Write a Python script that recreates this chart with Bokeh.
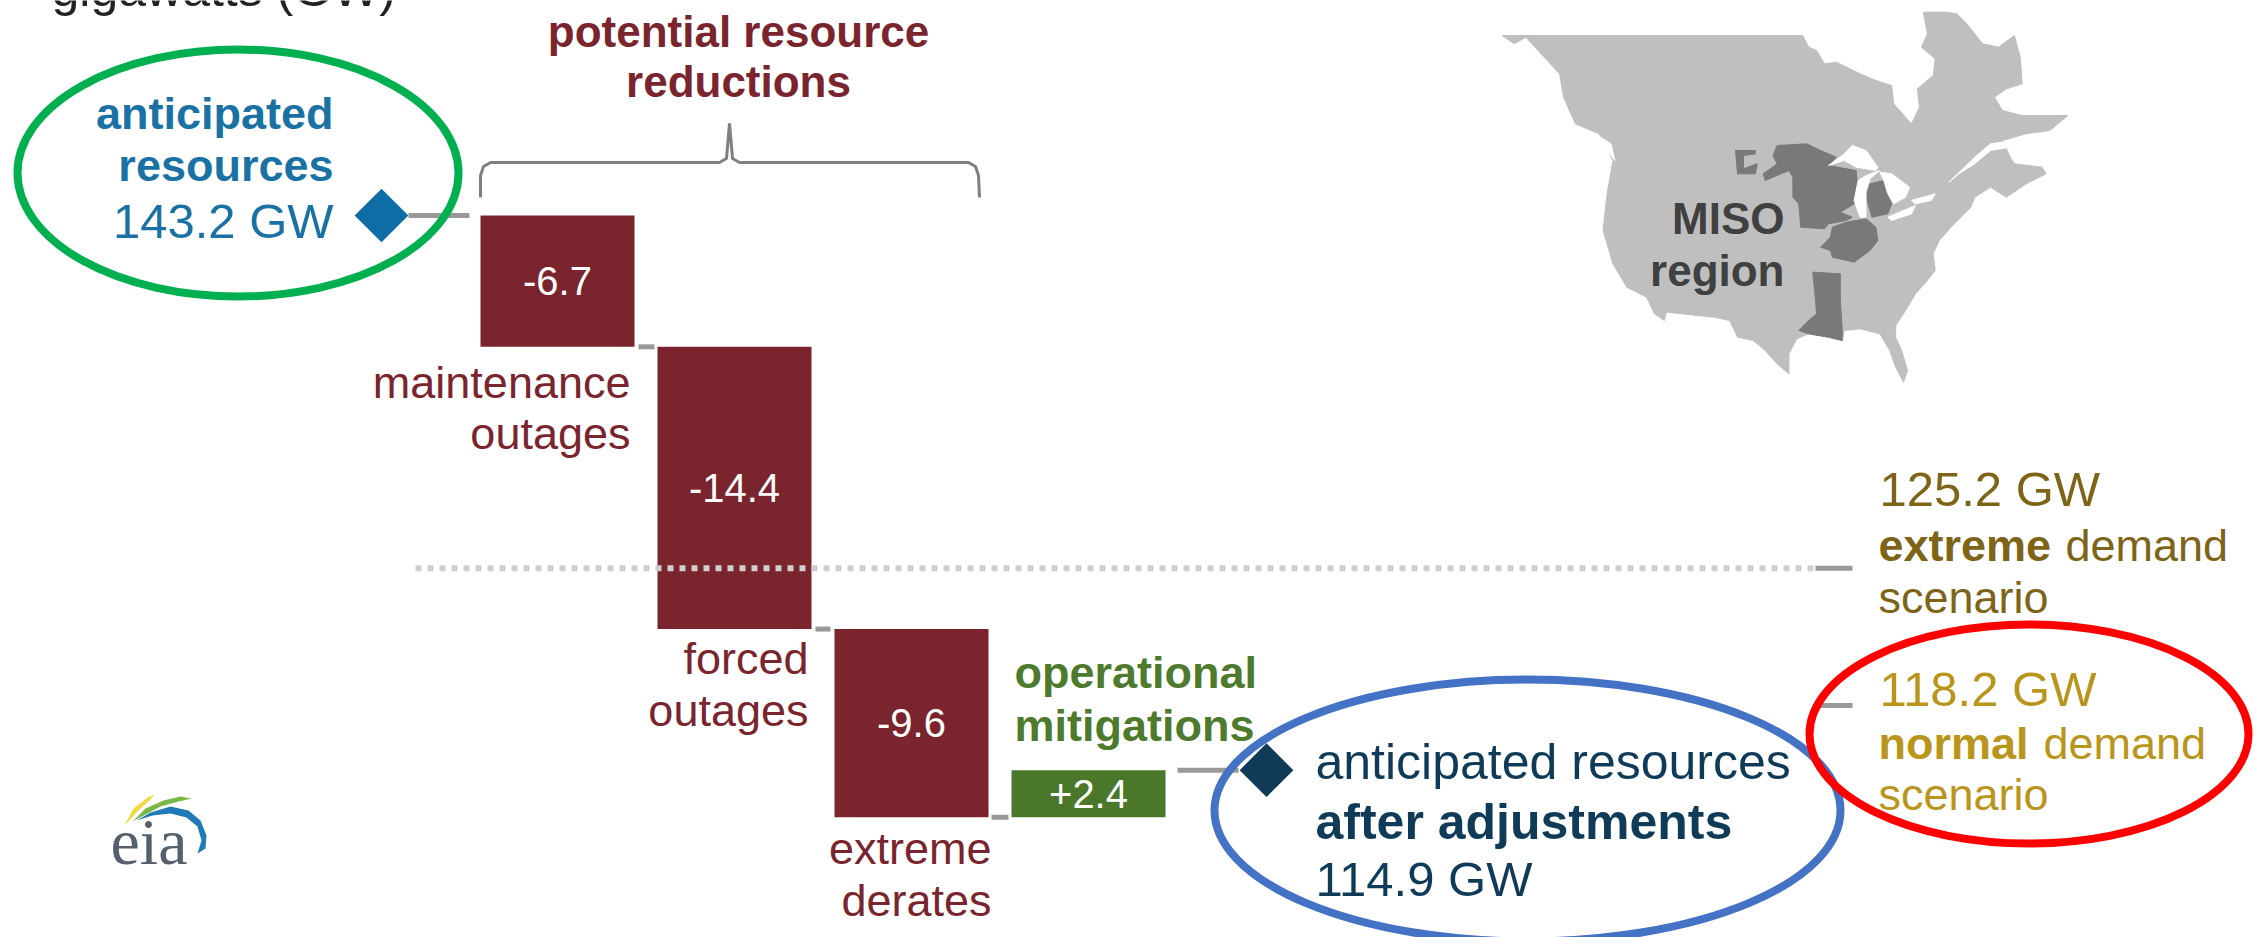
from bokeh.plotting import figure
from bokeh.models import Range1d
from bokeh.core.properties import value
from bokeh.embed import file_html
from bokeh.resources import INLINE
import numpy as np

# Resource stack, gigawatts
start_gw = 143.2
step_names = ["maintenance outages", "forced outages", "extreme derates", "operational mitigations"]
step_values = [-6.7, -14.4, -9.6, 2.4]
step_labels = ["-6.7", "-14.4", "-9.6", "+2.4"]
end_gw = 114.9
extreme_demand_gw = 125.2
normal_demand_gw = 118.2

MAROON = "#7a242e"
GREEN = "#4a7729"
TEAL = "#1a72a4"
NAVY = "#0f3b58"
OLIVE = "#4d7a2c"
EXTREME = "#7d6417"
NORMAL = "#b9951b"
GREY = "#999999"
FONT = "Liberation Sans"

# Map outlines, in map units (x runs 2.529 units per pixel, y 3 units per pixel)
land = [(55,105),(815,105),(830,140),(850,150),(870,190),(900,185),(960,220),(1000,240),(1040,255),
        (1045,310),(1075,350),(1090,370),(1110,320),(1105,265),(1145,225),(1150,175),(1115,140),(1130,100),
        (1120,35),(1175,35),(1205,40),(1230,70),(1270,130),(1310,140),(1350,105),(1365,170),(1370,250),
        (1330,265),(1300,290),(1320,330),(1370,345),(1485,345),(1440,390),(1380,400),(1320,420),(1340,470),
        (1350,490),(1420,500),(1430,520),(1380,550),(1330,590),(1290,560),(1250,590),(1240,620),(1190,680),
        (1160,720),(1145,760),(1150,810),(1130,840),(1100,880),(1075,930),(1050,975),(1050,1010),(1065,1050),
        (1080,1110),(1070,1145),(1050,1100),(1035,1050),(1010,1000),(960,985),(920,990),(915,1020),(880,1010),
        (830,1000),(800,1015),(780,1060),(780,1120),(750,1090),(720,1050),(690,1020),(650,1010),(630,960),
        (590,950),(510,940),(470,935),(465,960),(440,940),(420,890),(370,860),(335,790),(310,690),(320,580),
        (335,480),(300,400),(240,370),(210,290),(200,220),(130,130),(115,110),(85,130)]
water = [
    [(880,495),(920,460),(940,435),(975,450),(1005,500),(1000,510),(950,500),(920,480)],
    [(960,650),(945,600),(955,540),(975,525),(1010,510),(985,535),(975,570),(975,650)],
    [(1010,515),(1040,520),(1085,560),(1075,590),(1045,610),(1030,580),(1020,540)],
    [(1030,650),(1100,615),(1090,640),(1040,660)],
    [(1090,600),(1150,580),(1140,600),(1100,610)],
    [(1185,545),(1250,470),(1290,430),(1350,420),(1340,440),(1290,450),(1250,490),(1210,520)],
    [(240,380),(290,400),(330,430),(340,480),(320,450),(280,415)],
    [(150,280),(170,290),(175,315),(160,300)],
]
miso = [
    [(750,435),(825,430),(860,450),(900,470),(880,495),(950,510),(955,570),(945,610),(910,635),(940,650),
     (925,660),(880,670),(870,685),(810,680),(805,610),(790,590),(790,530),(780,510),(720,540),(715,520),
     (750,490),(740,465)],
    [(645,450),(695,450),(695,460),(665,465),(665,505),(700,490),(695,520),(650,520)],
    [(975,590),(985,550),(1020,540),(1030,580),(1040,610),(1030,640),(990,650)],
    [(890,680),(925,665),(975,655),(1000,680),(1005,720),(985,750),(945,785),(890,770),(885,750),(860,740),(885,710)],
    [(840,815),(910,820),(910,900),(915,990),(915,1020),(880,1010),(830,1000),(805,990),(830,960),(850,940),(845,870)],
]

# Pixel layout
W, H = 2254, 937
GW_TOP_PX, PX_PER_GW = 215.0, 19.6
bar_left = [480, 657, 834, 1011]
bar_width = 154
# Bokeh's alphabetic anchor sits this far (in em) above the drawn baseline
BASELINE_SHIFT = 0.33

p = figure(width=W, height=H, output_backend="svg", toolbar_location=None,
           x_range=Range1d(0, W),
           y_range=Range1d(start_gw - (H - GW_TOP_PX) / PX_PER_GW, start_gw + GW_TOP_PX / PX_PER_GW),
           min_border=0, outline_line_color=None, background_fill_color="white",
           border_fill_color="white")
p.axis.visible = False
p.xaxis.visible = False
p.yaxis.visible = False
p.grid.visible = False
p.extra_y_ranges = {"px": Range1d(H, 0)}


def map_xy(points):
    pts = np.array(points, dtype=float)
    return list(1480 + pts[:, 0] / 2.529), list(pts[:, 1] / 3)


def label(x, y, text, color, size, bold=False, align="left", font=FONT):
    p.text([x], [y - BASELINE_SHIFT * size], text=[text], y_range_name="px", text_color=color,
           text_font=value(font), text_font_size=f"{size}px",
           text_font_style="bold" if bold else "normal",
           text_align=align, text_baseline="alphabetic")


# Map of North America with the MISO footprint
lx, ly = map_xy(land)
p.patch(lx, ly, y_range_name="px", fill_color="#bfbfbf", line_color="#bfbfbf", line_width=1)
for shape in miso:
    sx, sy = map_xy(shape)
    p.patch(sx, sy, y_range_name="px", fill_color="#797979", line_color="#797979", line_width=1)
for shape in water:
    sx, sy = map_xy(shape)
    p.patch(sx, sy, y_range_name="px", fill_color="white", line_color="white", line_width=1)
label(1784, 233, "MISO", "#404040", 44, bold=True, align="right")
label(1784, 285, "region", "#404040", 44, bold=True, align="right")

# Waterfall bars
levels = np.concatenate([[start_gw], start_gw + np.cumsum(step_values)])
lefts = np.array(bar_left, dtype=float)
rights = lefts + bar_width
colors = [MAROON, MAROON, MAROON, GREEN]
p.quad(left=lefts, right=rights, top=np.maximum(levels[:-1], levels[1:]),
       bottom=np.minimum(levels[:-1], levels[1:]), fill_color=colors, line_color=None)
p.text(lefts + bar_width / 2, (levels[:-1] + levels[1:]) / 2, text=step_labels, text_color="white",
       text_font=value(FONT), text_font_size="40px", text_align="center", text_baseline="middle")

# Demand reference line
p.line([415, 1815], [extreme_demand_gw] * 2, line_color="#cfcfcf", line_width=6, line_dash="6 6")

# Connectors between the bars and out to the end markers
seg_x0 = [408, 638, 815, 991, 1177, 1815, 1819]
seg_x1 = [469, 654, 830, 1008, 1238, 1852, 1852]
seg_y = [start_gw, levels[1], levels[2], levels[3], levels[4], extreme_demand_gw, normal_demand_gw]
p.segment(seg_x0, seg_y, seg_x1, seg_y, line_color=GREY, line_width=5)

# End markers
p.scatter([381], [start_gw], marker="square", angle=np.pi / 4, size=38, fill_color="#0f6da6", line_color=None)
p.scatter([1266], [end_gw], marker="square", angle=np.pi / 4, size=38, fill_color=NAVY, line_color=None)

# Bracket over the reductions
bx = [480, 480, 483, 490, 719, 726, 729, 732, 739, 968, 975, 978, 979]
by = [197, 175, 166, 162, 162, 158, 123, 158, 162, 162, 166, 175, 197]
p.line(bx, by, y_range_name="px", line_color="#7f7f7f", line_width=3)

# Text
label(51, 5, "gigawatts (GW)", "#222222", 50)
label(333, 128, "anticipated", TEAL, 45, bold=True, align="right")
label(333, 180, "resources", TEAL, 45, bold=True, align="right")
label(333, 237, "143.2 GW", TEAL, 49, align="right")
label(738, 46, "potential resource", MAROON, 44, bold=True, align="center")
label(738, 96, "reductions", MAROON, 44, bold=True, align="center")
label(630, 397, "maintenance", MAROON, 45, align="right")
label(630, 448, "outages", MAROON, 45, align="right")
label(808, 673, "forced", MAROON, 45, align="right")
label(808, 725, "outages", MAROON, 45, align="right")
label(991, 863, "extreme", MAROON, 45, align="right")
label(991, 915, "derates", MAROON, 45, align="right")
label(1014, 687, "operational", OLIVE, 45, bold=True)
label(1014, 740, "mitigations", OLIVE, 45, bold=True)
label(1315, 778, "anticipated resources", NAVY, 50)
label(1315, 838, "after adjustments", NAVY, 50, bold=True)
label(1315, 895, "114.9 GW", NAVY, 49)
label(1879, 505, "125.2 GW", EXTREME, 49)
label(1878, 560, "extreme", EXTREME, 45, bold=True)
label(2065, 560, "demand", EXTREME, 45)
label(1878, 612, "scenario", EXTREME, 45)
label(1879, 705, "118.2 GW", NORMAL, 49)
label(1878, 758, "normal", NORMAL, 45, bold=True)
label(2043, 758, "demand", NORMAL, 45)
label(1878, 809, "scenario", NORMAL, 45)

# Agency logo
label(110, 863, "eia", "#55606c", 66, font="Liberation Serif")
p.patch([124, 133, 147, 154, 150, 138], [825, 808, 797, 794, 799, 810],
        y_range_name="px", fill_color="#f2d93c", line_color=None)
p.patch([132, 145, 163, 180, 191, 178, 160, 145], [821, 808, 800, 796, 798, 801, 806, 814],
        y_range_name="px", fill_color="#7ab648", line_color=None)
p.patch([136, 150, 170, 188, 200, 206, 205, 197, 201, 197, 186, 170, 152],
        [820, 812, 806, 810, 820, 835, 848, 853, 840, 826, 817, 813, 815],
        y_range_name="px", fill_color="#1f7ab5", line_color=None)

# Highlight ellipses
ell_x = [237.5, 1527, 2028.5]
ell_y = [172.5, 810, 733.5]
ell_w = [441, 626, 439]
ell_h = [247, 262, 219]
ell_c = ["#00b050", "#4472c4", "#ff0000"]
p.ellipse(ell_x, ell_y, width=ell_w, height=ell_h, y_range_name="px",
          fill_color=None, line_color=ell_c, line_width=8)

open("out.html", "w").write(file_html(p, INLINE))
